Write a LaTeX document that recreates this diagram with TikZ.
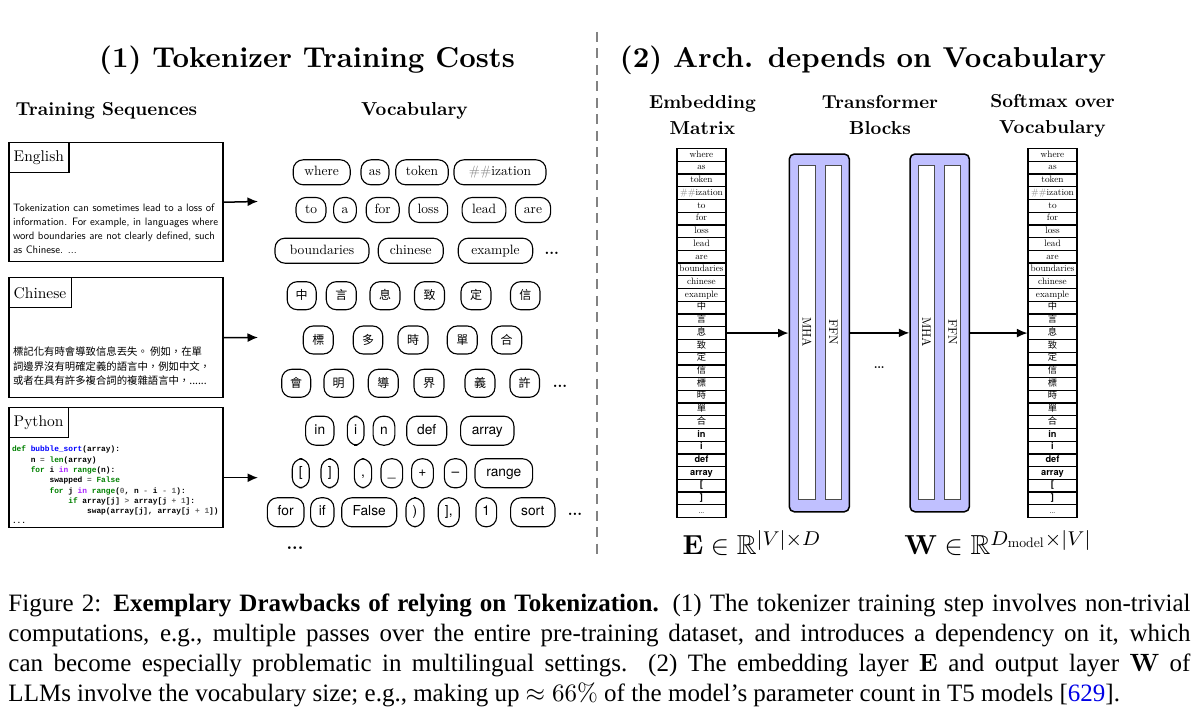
\documentclass[tikz,border=0pt]{standalone}
\usepackage{amsmath,amssymb}
\usepackage{fontspec}
\setmainfont{lmroman10-regular.otf}[BoldFont=lmroman10-bold.otf, ItalicFont=lmroman10-italic.otf, BoldItalicFont=lmroman10-bolditalic.otf]
\setsansfont{lmsans10-regular.otf}[BoldFont=lmsans10-bold.otf]
\newfontfamily\cjk{Noto Sans CJK TC}
\newfontfamily\heros{TeX Gyre Heros}
\newfontfamily\codef{Liberation Mono}
\newfontfamily\capf{Liberation Serif}[Ligatures=TeX]
\usetikzlibrary{arrows.meta}
\definecolor{blockfill}{RGB}{192,192,255}
\definecolor{pygreen}{RGB}{0,128,0}
\definecolor{pyblue}{RGB}{0,0,255}
\definecolor{pypurple}{RGB}{170,34,255}
\definecolor{pygray}{RGB}{102,102,102}
\definecolor{divgray}{RGB}{130,130,130}
\definecolor{linkblue}{RGB}{0,0,230}
\newcommand\kw[1]{\textcolor{pygreen}{#1}}
\newcommand\fn[1]{\textcolor{pyblue}{#1}}
\newcommand\pin[1]{\textcolor{pypurple}{#1}}
\newcommand\op[1]{\textcolor{pygray}{#1}}
\newcommand\hb{\heros\bfseries}
\tikzset{
  tok/.style={draw, line width=0.45pt, rounded corners=4pt, inner sep=0pt, minimum width=#1*0.4pt},
  etok/.style={tok=#1, minimum height=10pt, text height=3.8pt, text depth=1.1pt, font=\fontsize{5.4}{6}\selectfont},
  ctok/.style={tok=#1, minimum height=11.2pt, text height=4pt, text depth=0.6pt, font=\cjk\fontsize{4.8}{5}\selectfont},
  ptok/.style={tok=#1, minimum height=11.6pt, text height=4pt, text depth=1.2pt, font=\heros\fontsize{5.5}{6}\selectfont},
  dotsn/.style={font=\bfseries\fontsize{6}{7}\selectfont, inner sep=0pt},
  lbox/.style={draw, line width=0.6pt, minimum width=85.6pt, anchor=north west, inner sep=0pt},
  lab/.style={draw, line width=0.6pt, minimum height=12pt, inner xsep=2pt, inner ysep=0pt, anchor=north west, font=\fontsize{6.2}{7}\selectfont},
  arr/.style={-{Latex[length=4.2pt,width=3.6pt]}, line width=0.6pt},
  title/.style={font=\bfseries\fontsize{11.5}{13}\selectfont, inner sep=0pt},
  sub/.style={font=\bfseries\fontsize{7.5}{10.4}\selectfont, align=center, inner sep=0pt},
  cell/.style={draw, line width=0.5pt, minimum width=19.6pt, minimum height=5.09pt, inner sep=0pt, text height=2.5pt, text depth=0.7pt, font=\fontsize{3.7}{4}\selectfont},
  blk/.style={draw, line width=0.6pt, fill=blockfill, rounded corners=2pt, minimum width=#1*0.4pt, minimum height=143.1pt, inner sep=0pt},
  inbox/.style={draw=black!70, line width=0.4pt, fill=white, minimum width=16.5*0.4pt, minimum height=133.7pt, inner sep=0pt},
  rotl/.style={rotate=-90, font=\fontsize{5}{6}\selectfont, inner sep=0pt},
  divider/.style={draw=divgray, line width=0.8pt, dash pattern=on 4pt off 2.6pt}
}
\begin{document}
\begin{tikzpicture}[x=0.4pt, y=-0.4pt]
\useasboundingbox (0,0) rectangle (1199,724);

% titles
\node[title] (t1) at (307,60.5) {(1) Tokenizer Training Costs};
\node[title] (t2) at (863,60.5) {(2) Arch. depends on Vocabulary};
\coordinate (dtop) at (597,32);
\coordinate (dbot) at (597,560);
\draw[divider] (dtop) -- (dbot);

% sub headings
\node[sub] (h1) at (106.5,111) {Training Sequences};
\node[sub] (h2) at (414.5,111) {Vocabulary};
\node[sub] (h3) at (702.5,115.5) {Embedding\\Matrix};
\node[sub] (h4) at (880,115.5) {Transformer\\Blocks};
\node[sub] (h5) at (1052.5,115.5) {Softmax over\\Vocabulary};

% left boxes
\node[lbox, minimum height=47.6pt] (eng) at (8,142) {};
\node[lab] (engl) at (eng.north west) {English};
\node[anchor=west, align=left, inner sep=0pt, font=\sffamily\fontsize{4.3}{5.6}\selectfont] (engt) at (12.5,228.3)
  {Tokenization can sometimes lead to a loss of\\information. For example, in languages where\\word boundaries are not clearly defined, such\\as Chinese. ...};

\node[lbox, minimum height=48pt] (chi) at (8,277) {};
\node[lab] (chil) at (chi.north west) {Chinese};
\node[anchor=west, align=left, inner sep=0pt, font=\cjk\fontsize{4.15}{5.8}\selectfont] (chit) at (12.5,366.3)
  {標記化有時會導致信息丟失。 例如，在單\\詞邊界沒有明確定義的語言中，例如中文，\\或者在具有許多複合詞的複雜語言中，......};

\node[lbox, minimum height=48pt] (py) at (8,407) {};
\node[lab] (pyl) at (py.north west) {Python};
\node[anchor=west, align=left, inner sep=0pt, font=\codef\bfseries\fontsize{3.13}{4.12}\selectfont] (code) at (11.5,485)
  {\kw{def} \fn{bubble\_sort}(array):\\
   \hspace*{2.4em}n \op{=} \kw{len}(array)\\
   \hspace*{2.4em}\kw{for} i \pin{in} \kw{range}(n):\\
   \hspace*{4.8em}swapped \op{=} \kw{False}\\
   \hspace*{4.8em}\kw{for} j \pin{in} \kw{range}(\op{0}, n \op{-} i \op{-} \op{1}):\\
   \hspace*{7.2em}\kw{if} array[j] \op{>} array[j \op{+} \op{1}]:\\
   \hspace*{9.6em}swap(array[j], array[j \op{+} \op{1}])\\
   ...};

\coordinate (ea) at (258,201.5);
\coordinate (ca) at (258,337.5);
\coordinate (pa) at (258,477.7);
\draw[arr] (eng.east) -- (ea);
\draw[arr] (chi.east) -- (ca);
\draw[arr] (pa -| py.east) -- (pa);

% english vocabulary tokens
\node[etok=57] (v1) at (321.7,172.3) {where};
\node[etok=28] (v2) at (375,172.3) {as};
\node[etok=52.6] (v3) at (422,172.3) {token};
\node[etok=92] (v4) at (500,172.3) {\textcolor{gray}{\#\#}ization};
\node[etok=30] (v5) at (311,210) {to};
\node[etok=22.7] (v6) at (345,210) {a};
\node[etok=33] (v7) at (382.7,210) {for};
\node[etok=38.7] (v8) at (428.3,210) {loss};
\node[etok=43.7] (v9) at (484,210) {lead};
\node[etok=35.3] (v10) at (533,210) {are};
\node[etok=94] (v11) at (322,250.7) {boundaries};
\node[etok=65] (v12) at (410.8,250.7) {chinese};
\node[etok=74.4] (v13) at (495.5,250.7) {example};
\node[dotsn] (vd1) at (551.7,253) {...};

% chinese tokens
\node[ctok=29] (c1) at (301.7,295.7) {中};
\node[ctok=30] (c2) at (341.3,295.7) {言};
\node[ctok=30] (c3) at (385,295.7) {息};
\node[ctok=30] (c4) at (429.5,295.7) {致};
\node[ctok=30] (c5) at (476,295.7) {定};
\node[ctok=29.5] (c6) at (525.3,295.7) {信};
\node[ctok=30] (c7) at (318.3,340) {標};
\node[ctok=29.5] (c8) at (368,340) {多};
\node[ctok=30] (c9) at (413,340) {時};
\node[ctok=30] (c10) at (462.3,340) {單};
\node[ctok=30] (c11) at (506.7,340) {合};
\node[ctok=29] (c12) at (296.2,383.3) {會};
\node[ctok=29.5] (c13) at (338.7,383.3) {明};
\node[ctok=30] (c14) at (383.3,383.3) {導};
\node[ctok=30] (c15) at (429,383.3) {界};
\node[ctok=30] (c16) at (480,383.3) {義};
\node[ctok=29.5] (c17) at (524.7,383.3) {許};
\node[dotsn] (vd2) at (560,386) {...};

% python tokens
\node[ptok=28.3] (p1) at (319.8,430.7) {in};
\node[ptok=16.7] (p2) at (355.7,430.7) {i};
\node[ptok=21.7] (p3) at (384,430.7) {n};
\node[ptok=40] (p4) at (426.7,430.7) {def};
\node[ptok=53.3] (p5) at (487.3,430.7) {array};
\node[ptok=17] (p6) at (300.8,473.3) {[};
\node[ptok=17.3] (p7) at (329.7,473.3) {]};
\node[ptok=17.3] (p8) at (363,473.3) {,};
\node[ptok=21.7] (p9) at (391.8,473.3) {\_};
\node[ptok=21.7] (p10) at (422.5,473.3) {+};
\node[ptok=22.3] (p11) at (455.5,473.3) {–};
\node[ptok=57.7] (p12) at (503.8,473.3) {range};
\node[ptok=36.7] (p13) at (285.7,512.3) {for};
\node[ptok=23.3] (p14) at (322.3,512.3) {if};
\node[ptok=55] (p15) at (369.2,512.3) {False};
\node[ptok=18] (p16) at (415,512.3) {)};
\node[ptok=21] (p17) at (448.8,512.3) {],};
\node[ptok=20.7] (p18) at (486.3,512.3) {1};
\node[ptok=44.3] (p19) at (532.8,512.3) {sort};
\node[dotsn] (vd3) at (575,514) {...};
\node[dotsn, font=\bfseries\fontsize{7}{8}\selectfont] (vd4) at (295,548) {...};

% embedding matrix and softmax column
\foreach \t [count=\i] in {where,as,token,{\textcolor{gray}{\#\#}ization},to,for,loss,lead,are,boundaries,chinese,example,{\cjk 中},{\cjk 言},{\cjk 息},{\cjk 致},{\cjk 定},{\cjk 信},{\cjk 標},{\cjk 時},{\cjk 單},{\cjk 合},{\hb in},{\hb i},{\hb def},{\hb array},{\hb [},{\hb ]},{\dots}} {
  \node[cell] (e\i) at (701.5,{155+(\i-1)*12.72}) {\t};
  \node[cell] (s\i) at (1052.5,{155+(\i-1)*12.72}) {\t};
}

% transformer blocks
\node[blk=60] (b1) at (819.3,332.9) {};
\node[inbox] (mha1) at (807,332.2) {};
\node[inbox] (ffn1) at (833.5,332.2) {};
\node[rotl] (mha1l) at (mha1) {MHA};
\node[rotl] (ffn1l) at (ffn1) {FFN};
\node[blk=59.3] (b2) at (939.7,332.9) {};
\node[inbox] (mha2) at (926.7,332.2) {};
\node[inbox] (ffn2) at (952.7,332.2) {};
\node[rotl] (mha2l) at (mha2) {MHA};
\node[rotl] (ffn2l) at (ffn2) {FFN};
\node[font=\fontsize{7}{8}\selectfont, inner sep=0pt] (bdots) at (879.3,368) {\dots};

\draw[arr] (e15.east) -- (b1.west |- e15.east);
\draw[arr] (b1.east) -- (b2.west);
\draw[arr] (b2.east |- s15.west) -- (s15.west);

% formulas
\node[font=\fontsize{11}{13}\selectfont, anchor=base, inner sep=0pt] (emath) at (752,555) {$\mathbf{E}\in\mathbb{R}^{|V|\times D}$};
\node[font=\fontsize{11}{13}\selectfont, anchor=base, inner sep=0pt] (wmath) at (998,555) {$\mathbf{W}\in\mathbb{R}^{D_{\mathrm{model}}\times|V|}$};

% caption
\node[anchor=north west, inner sep=0pt, align=left, font=\capf\fontsize{10}{12}\selectfont] (cap) at (8,593)
{\makebox[472.8pt][s]{Figure 2: \textbf{Exemplary Drawbacks of relying on Tokenization.} (1) The tokenizer training step involves non-trivial}\\
 \makebox[472.8pt][s]{computations, e.g., multiple passes over the entire pre-training dataset, and introduces a dependency on it, which}\\
 \makebox[472.8pt][s]{can become especially problematic in multilingual settings. (2) The embedding layer $\mathbf{E}$ and output layer $\mathbf{W}$ of}\\
 LLMs involve the vocabulary size; e.g., making up $\approx 66\%$ of the model’s parameter count in T5 models [\textcolor{linkblue}{629}].};
\end{tikzpicture}
\end{document}
